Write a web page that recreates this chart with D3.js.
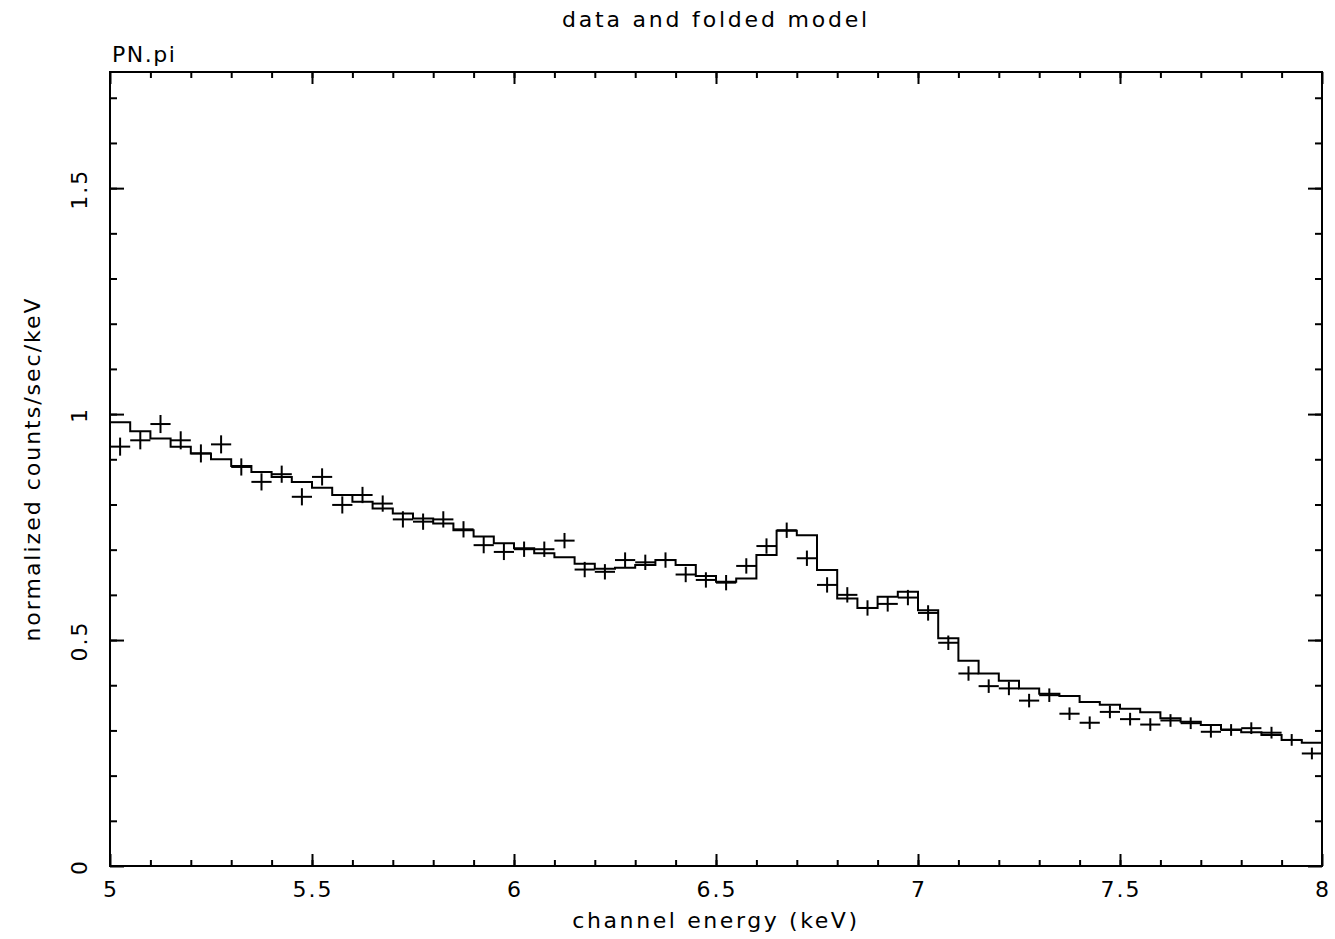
<!DOCTYPE html>
<html>
<head>
<meta charset="utf-8">
<script src="https://cdn.jsdelivr.net/npm/d3@7"></script>
<style>
  body { margin: 0; background: #fff; }
  text { font-family: "DejaVu Sans", sans-serif; fill: #000; }
</style>
</head>
<body>
<div id="chart"></div>
<script>
// channel bins, 0.05 keV wide (centres)
var binCentres = [5.025,5.075,5.125,5.175,5.225,5.275,5.325,5.375,5.425,5.475,
  5.525,5.575,5.625,5.675,5.725,5.775,5.825,5.875,5.925,5.975,
  6.025,6.075,6.125,6.175,6.225,6.275,6.325,6.375,6.425,6.475,
  6.525,6.575,6.625,6.675,6.725,6.775,6.825,6.875,6.925,6.975,
  7.025,7.075,7.125,7.175,7.225,7.275,7.325,7.375,7.425,7.475,
  7.525,7.575,7.625,7.675,7.725,7.775,7.825,7.875,7.925,7.975];
var binHalfWidth = 0.025;

var dataCounts = [0.928,0.942,0.978,0.942,0.913,0.933,0.883,0.850,0.867,0.817,
  0.861,0.799,0.821,0.802,0.767,0.762,0.767,0.745,0.710,0.695,
  0.701,0.701,0.720,0.656,0.651,0.677,0.672,0.677,0.645,0.633,
  0.627,0.664,0.708,0.743,0.681,0.622,0.600,0.571,0.580,0.594,
  0.560,0.494,0.426,0.398,0.393,0.366,0.378,0.337,0.317,0.341,
  0.325,0.313,0.322,0.316,0.297,0.301,0.305,0.295,0.279,0.249];

var dataErrors = [0.020,0.020,0.020,0.020,0.020,0.020,0.019,0.019,0.019,0.019,
  0.019,0.019,0.018,0.018,0.018,0.018,0.018,0.018,0.018,0.018,
  0.017,0.017,0.017,0.017,0.017,0.017,0.017,0.017,0.017,0.017,
  0.017,0.017,0.017,0.017,0.017,0.017,0.017,0.017,0.017,0.017,
  0.017,0.016,0.016,0.015,0.015,0.015,0.015,0.014,0.014,0.014,
  0.014,0.014,0.014,0.013,0.013,0.013,0.013,0.013,0.013,0.013];

// folded model, one value per bin (lower edge = centre - 0.025)
var modelCounts = [0.982,0.962,0.946,0.928,0.913,0.900,0.885,0.872,0.861,0.850,
  0.837,0.821,0.806,0.791,0.780,0.769,0.758,0.743,0.729,0.714,
  0.703,0.692,0.683,0.669,0.658,0.660,0.666,0.677,0.666,0.642,
  0.629,0.636,0.688,0.742,0.732,0.655,0.592,0.571,0.596,0.607,
  0.566,0.504,0.454,0.426,0.410,0.393,0.381,0.376,0.363,0.357,
  0.348,0.340,0.327,0.319,0.312,0.302,0.296,0.290,0.279,0.273];

var xMajor = [5, 5.5, 6, 6.5, 7, 7.5, 8];
var xMajorLabels = ["5", "5.5", "6", "6.5", "7", "7.5", "8"];
var yMajor = [0, 0.5, 1, 1.5];
var yMajorLabels = ["0", "0.5", "1", "1.5"];

var width = 1335, height = 939;
var margin = {top: 72, right: 13, bottom: 73, left: 110};
var chartW = width - margin.left - margin.right,
    chartH = height - margin.top - margin.bottom;

var x = d3.scaleLinear().domain([5, 8]).range([0, chartW]);
var y = d3.scaleLinear().domain([0, 1.757]).range([chartH, 0]);

var svg = d3.select('#chart').append('svg')
    .attr('width', width)
    .attr('height', height);

var g = svg.append('g')
    .attr('transform', 'translate(' + margin.left + ',' + margin.top + ')');

var xMinor = d3.range(51, 80).map(function(d) { return d / 10; });
var yMinor = d3.range(1, 18).map(function(d) { return d / 10; });

function tickAxis(axisFn, scale, values, len, tr) {
  var a = g.append('g')
      .attr('class', 'axis')
      .attr('transform', tr)
      .call(axisFn(scale).tickValues(values).tickSize(len).tickSizeOuter(0).tickFormat(''));
  a.select('.domain').remove();
  a.selectAll('line').attr('stroke', '#000').attr('stroke-width', 2);
}

// inward ticks on all four sides
tickAxis(d3.axisBottom, x, xMinor, -6, 'translate(0,' + chartH + ')');
tickAxis(d3.axisBottom, x, xMajor, -12, 'translate(0,' + chartH + ')');
tickAxis(d3.axisTop, x, xMinor, -6, 'translate(0,0)');
tickAxis(d3.axisTop, x, xMajor, -12, 'translate(0,0)');
tickAxis(d3.axisLeft, y, yMinor, -7, 'translate(0,0)');
tickAxis(d3.axisLeft, y, yMajor, -14, 'translate(0,0)');
tickAxis(d3.axisRight, y, yMinor, -7, 'translate(' + chartW + ',0)');
tickAxis(d3.axisRight, y, yMajor, -14, 'translate(' + chartW + ',0)');

g.append('rect')
    .attr('width', chartW)
    .attr('height', chartH)
    .attr('fill', 'none')
    .attr('stroke', '#000')
    .attr('stroke-width', 2);

// tick labels
g.selectAll('.xlab')
    .data(xMajor)
  .enter().append('text')
    .attr('class', 'xlab')
    .attr('x', function(d) { return x(d) + 1; })
    .attr('y', chartH + 31)
    .attr('text-anchor', 'middle')
    .style('font-size', '22px')
    .style('letter-spacing', '2px')
    .text(function(d, i) { return xMajorLabels[i]; });

g.selectAll('.ylab')
    .data(yMajor)
  .enter().append('text')
    .attr('class', 'ylab')
    .attr('transform', function(d) { return 'translate(-23,' + (y(d) + 1) + ') rotate(-90)'; })
    .attr('text-anchor', 'middle')
    .style('font-size', '22px')
    .style('letter-spacing', '2px')
    .text(function(d, i) { return yMajorLabels[i]; });

// model step line
var modelPts = modelCounts.map(function(v, i) { return [binCentres[i] - binHalfWidth, v]; });
modelPts.push([8, modelCounts[modelCounts.length - 1]]);

g.append('path')
    .datum(modelPts)
    .attr('fill', 'none')
    .attr('stroke', '#000')
    .attr('stroke-width', 2)
    .attr('d', d3.line()
      .x(function(d) { return x(d[0]); })
      .y(function(d) { return y(d[1]); })
      .curve(d3.curveStepAfter));

// data crosses
var pts = g.selectAll('.event')
    .data(binCentres)
  .enter().append('g')
    .attr('class', 'event');

pts.append('line')
    .attr('x1', function(d) { return x(d - binHalfWidth); })
    .attr('x2', function(d) { return x(d + binHalfWidth); })
    .attr('y1', function(d, i) { return y(dataCounts[i]); })
    .attr('y2', function(d, i) { return y(dataCounts[i]); })
    .attr('stroke', '#000')
    .attr('stroke-width', 2);

pts.append('line')
    .attr('x1', function(d) { return x(d); })
    .attr('x2', function(d) { return x(d); })
    .attr('y1', function(d, i) { return y(dataCounts[i] - dataErrors[i]); })
    .attr('y2', function(d, i) { return y(dataCounts[i] + dataErrors[i]); })
    .attr('stroke', '#000')
    .attr('stroke-width', 2);

// titles
svg.append('text')
    .attr('x', margin.left + chartW / 2)
    .attr('y', 27)
    .attr('text-anchor', 'middle')
    .style('font-size', '22px')
    .style('letter-spacing', '2.8px')
    .text('data and folded model');

svg.append('text')
    .attr('x', margin.left + 2)
    .attr('y', 62)
    .style('font-size', '22px')
    .style('letter-spacing', '1.5px')
    .text('PN.pi');

svg.append('text')
    .attr('x', margin.left + chartW / 2)
    .attr('y', 928)
    .attr('text-anchor', 'middle')
    .style('font-size', '22px')
    .style('letter-spacing', '2.6px')
    .text('channel energy (keV)');

svg.append('text')
    .attr('transform', 'translate(40,' + (margin.top + chartH / 2) + ') rotate(-90)')
    .attr('text-anchor', 'middle')
    .style('font-size', '22px')
    .style('letter-spacing', '2px')
    .text('normalized counts/sec/keV');
</script>
</body>
</html>
